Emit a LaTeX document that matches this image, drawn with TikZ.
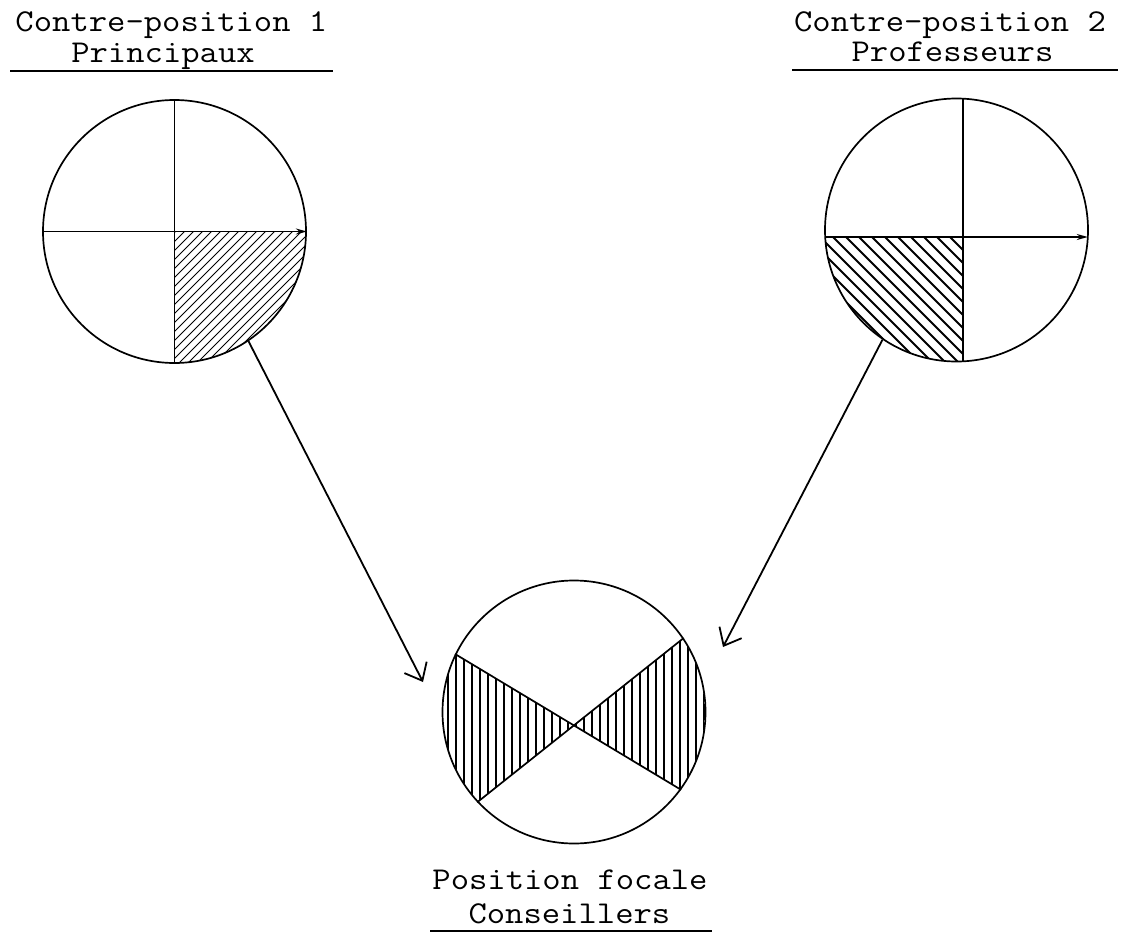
\documentclass[tikz,border=0pt]{standalone}
\usepackage{graphicx}
\usetikzlibrary{arrows.meta,calc}
\newcommand\typew[1]{\scalebox{1.12}[1]{#1}}
\tikzset{
  lbl/.style={font=\ttfamily\fontsize{31.8}{32}\selectfont, anchor=base, inner sep=0pt},
  rulel/.style={line width=1.9pt},
  disc/.style={circle, draw, line width=1.7pt, inner sep=0pt, minimum size=263pt},
  axisl/.style={line width=1.7pt},
  axarrow/.style={line width=1.7pt, -{Stealth[length=11pt,width=6pt]}},
  hatchthin/.style={line width=0.9pt},
  hatchbold/.style={line width=2.1pt},
  hatchvert/.style={line width=1.8pt},
  conn/.style={line width=1.8pt, -{Straight Barb[length=15pt,width=25pt,line width=1.8pt]}}
}
\begin{document}
\begin{tikzpicture}[x=1pt,y=1pt]
\useasboundingbox (0,0) rectangle (1124,-934);

% ---------- left: Contre-position 1 ----------
\node[lbl] (t1a) at (171.4,-31.7) {\typew{Contre-position 1}};
\node[lbl] (t1b) at (163,-63) {\typew{Principaux}};
\draw[rulel] (10,-71) coordinate (u1a) -- (333,-71) coordinate (u1b);

\node[disc] (c1) at (174.5,-231.5) {};
\begin{scope}
  \clip (c1.center) circle (131.5);
  \clip (c1.center) rectangle ++(150,-150);
  \foreach \x in {0,9,...,300} \draw[hatchthin] (\x,-380) -- ++(260,260);
\end{scope}
\draw[axisl] (c1.north) -- (c1.south);
\draw[axarrow] (c1.west) -- (c1.east);

% ---------- right: Contre-position 2 ----------
\node[lbl] (t2a) at (950,-31.7) {\typew{Contre-position 2}};
\node[lbl] (t2b) at (952.5,-61.7) {\typew{Professeurs}};
\draw[rulel] (792,-70) coordinate (u2a) -- (1118,-70) coordinate (u2b);

\node[disc] (c2) at (956.5,-230) {};
\coordinate (v2t) at (963,-98.7);
\coordinate (v2b) at (963,-361.3);
\coordinate (h2l) at (825.2,-237);
\coordinate (h2r) at (1087.8,-237);
\coordinate (q2) at (963,-237);
\begin{scope}
  \clip (c2.center) circle (131.5);
  \clip (q2) rectangle ++(-160,-160);
  \foreach \x in {640,653,...,960} \draw[hatchbold] (\x,-200) -- ++(220,-220);
\end{scope}
\draw[axisl] (v2t) -- (v2b);
\draw[axarrow] (h2l) -- (h2r);

% ---------- bottom: Position focale ----------
\node[disc] (c3) at (574,-712) {};
\coordinate (A1) at (c3.154.2);
\coordinate (A2) at (c3.223.8);
\coordinate (A3) at (c3.34.7);
\coordinate (A4) at (c3.-36.6);
\coordinate (X) at (intersection of A1--A4 and A2--A3);
\begin{scope}
  \clip (c3.center) circle (131);
  \clip (X) -- ($(X)!2.2!(A1)$) -- ($(X)!2.2!(A2)$) -- cycle
        (X) -- ($(X)!2.2!(A3)$) -- ($(X)!2.2!(A4)$) -- cycle;
  \foreach \x in {440,448,...,712} \draw[hatchvert] (\x,-560) -- (\x,-860);
\end{scope}
\draw[axisl] (A1) -- (A4);
\draw[axisl] (A2) -- (A3);

\node[lbl] (t3a) at (570,-889) {\typew{Position focale}};
\node[lbl] (t3b) at (569.4,-923) {\typew{Conseillers}};
\draw[rulel] (430,-931) coordinate (u3a) -- (712,-931) coordinate (u3b);

% ---------- connectors ----------
\coordinate (e1) at (423,-682);
\coordinate (e2) at (723,-647);
\draw[conn] (c1.-56) -- (e1);
\draw[conn] (c2.236.7) -- (e2);
\end{tikzpicture}
\end{document}
